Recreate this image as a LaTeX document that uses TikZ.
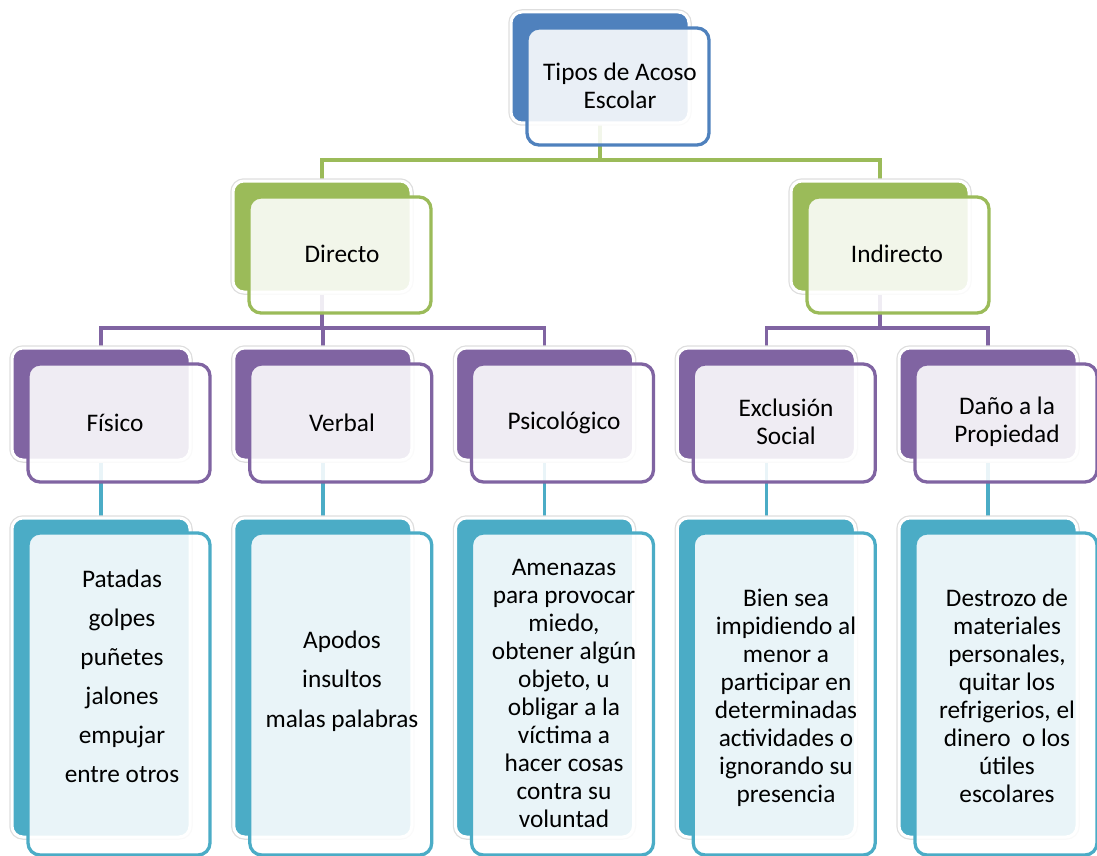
\documentclass[tikz,border=0pt]{standalone}
\usepackage{fontspec}
\setmainfont{Carlito}
\usetikzlibrary{backgrounds}
\definecolor{cblue}{HTML}{4F81BD}
\definecolor{cgreen}{HTML}{9BBB59}
\definecolor{cpurple}{HTML}{8064A2}
\definecolor{cteal}{HTML}{4BACC6}
\begin{document}
\begin{tikzpicture}[x=1pt,y=-1pt,
  back/.style={draw=white, line width=3pt, rounded corners=11pt, anchor=north west,
    minimum width=178pt, inner sep=0pt, outer sep=0pt,
    preaction={draw=black!13, line width=5.5pt}},
  front/.style={fill=white, fill opacity=0.88, line width=3.3pt, rounded corners=12pt,
    anchor=north west, minimum width=182pt, inner sep=0pt, outer sep=0pt},
  lbl/.style={align=center, text=black, inner sep=0pt, font=\fontsize{25.3}{28}\selectfont},
  conn/.style={line width=3.5pt}]
\path[use as bounding box] (0,0) rectangle (1097,856);

% level 0
\node[back, fill=cblue, minimum height=111pt] (top-b) at (511,12) {};
\node[front, draw=cblue, minimum height=117pt] (top-f) at (527,28) {};
\node[lbl] (top-t) at (620,86) {Tipos de Acoso\\Escolar};

% level 1
\node[back, fill=cgreen, minimum height=111pt] (dir-b) at (233,181) {};
\node[front, draw=cgreen, minimum height=116pt] (dir-f) at (249,197) {};
\node[lbl] (dir-t) at (342,254) {Directo};

\node[back, fill=cgreen, minimum height=111pt] (ind-b) at (791,181) {};
\node[front, draw=cgreen, minimum height=116pt] (ind-f) at (807,197) {};
\node[lbl] (ind-t) at (897,254) {Indirecto};

% level 2
\foreach \n/\x in {fis/12, ver/233.75, psi/455.5, exc/677.25, dan/899}{
  \node[back, fill=cpurple, minimum height=112pt] (\n-b) at (\x,348) {};
  \node[front, draw=cpurple, minimum height=118pt] (\n-f) at (\x+16,364) {};
  \node[back, fill=cteal, minimum height=319pt] (\n d-b) at (\x,518) {};
  \node[front, draw=cteal, minimum height=322pt] (\n d-f) at (\x+16,533) {};
}
\node[lbl] (fis-t) at (115,423) {Físico};
\node[lbl] (ver-t) at (342,423) {Verbal};
\node[lbl] (psi-t) at (564,423) {Psicológico};
\node[lbl] (exc-t) at (786,422) {Exclusión\\Social};
\node[lbl] (dan-t) at (1007,422) {Daño a la\\Propiedad};

% level 3 texts
\node[lbl, font=\fontsize{25.3}{39}\selectfont] (fisd-t) at (122,676)
  {Patadas\\golpes\\puñetes\\jalones\\empujar\\entre otros};
\node[lbl, font=\fontsize{25.3}{39.5}\selectfont] (verd-t) at (342,681)
  {Apodos\\insultos\\malas palabras};
\node[lbl] (psid-t) at (564,693)
  {Amenazas\\para provocar\\miedo,\\obtener algún\\objeto, u\\obligar a la\\víctima a\\hacer cosas\\contra su\\voluntad};
\node[lbl] (excd-t) at (786,698)
  {Bien sea\\impidiendo al\\menor a\\participar en\\determinadas\\actividades o\\ignorando su\\presencia};
\node[lbl] (dand-t) at (1007,696)
  {Destrozo de\\materiales\\personales,\\quitar los\\refrigerios, el\\dinero\ \ o los\\útiles\\escolares};

% connectors
\begin{pgfonlayer}{background}
\draw[conn, cgreen] (top-b.south) -- ++(0,37) -| (dir-b.north);
\draw[conn, cgreen] (top-b.south) -- ++(0,37) -| (ind-b.north);
\foreach \n in {fis, ver, psi}{
  \draw[conn, cpurple] (dir-b.south) -- ++(0,36) -| (\n-b.north);
}
\foreach \n in {exc, dan}{
  \draw[conn, cpurple] (ind-b.south) -- ++(0,36) -| (\n-b.north);
}
\foreach \n in {fis, ver, psi, exc, dan}{
  \draw[conn, cteal] (\n-b.south) -- (\n d-b.north);
}
\end{pgfonlayer}
\end{tikzpicture}
\end{document}
